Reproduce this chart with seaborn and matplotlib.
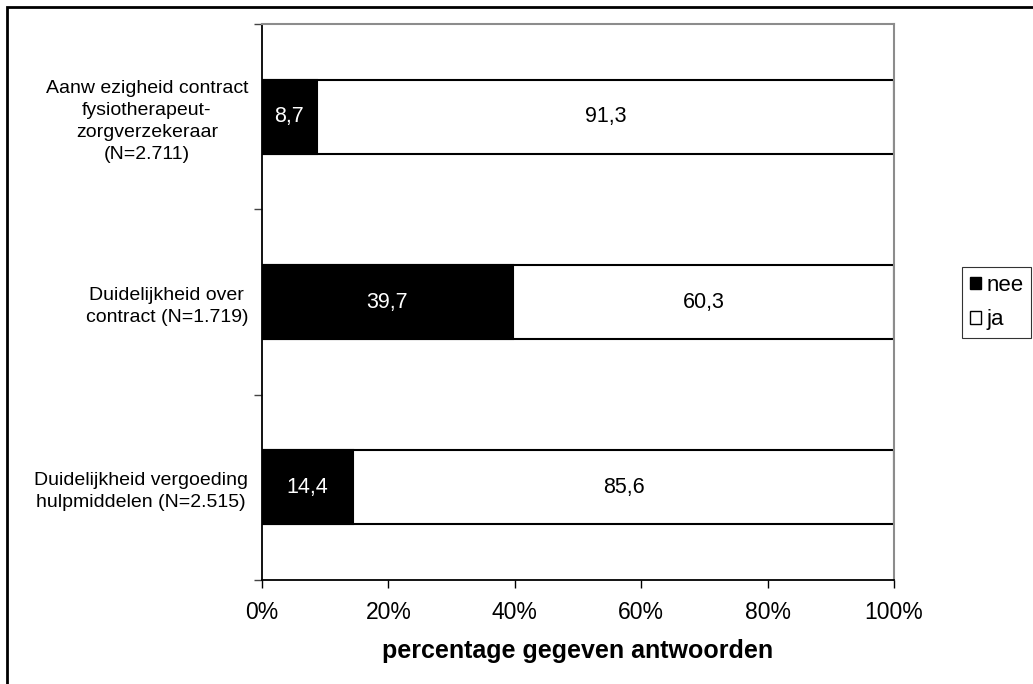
import matplotlib
matplotlib.use("Agg")
import matplotlib.pyplot as plt
import seaborn as sns
import pandas as pd
from matplotlib.patches import Rectangle, Patch
from matplotlib.ticker import FixedLocator, FuncFormatter

# Data
categories = [
    "Aanw ezigheid contract\nfysiotherapeut-\nzorgverzekeraar\n(N=2.711)",
    "Duidelijkheid over\ncontract (N=1.719)",
    "Duidelijkheid vergoeding\nhulpmiddelen (N=2.515)",
]
nee = [8.7, 39.7, 14.4]
ja = [91.3, 60.3, 85.6]
series_names = ["nee", "ja"]
x_ticks = [0, 20, 40, 60, 80, 100]
x_label = "percentage gegeven antwoorden"

sns.set_style("ticks")
plt.rcParams["font.family"] = ["Liberation Sans", "DejaVu Sans"]
for key in ("text.color", "axes.labelcolor", "xtick.color", "ytick.color"):
    plt.rcParams[key] = "black"

df = pd.DataFrame({"categorie": categories, "nee": nee, "ja": ja})
df["totaal"] = df["nee"] + df["ja"]

W, H = 1033, 684
fig = plt.figure(figsize=(W / 100, H / 100), dpi=100)
ax = fig.add_axes([262 / W, 1 - 580 / H, (894 - 262) / W, (580 - 24) / H])

# stacked bars: full total in white, "nee" part in black on top
sns.barplot(data=df, y="categorie", x="totaal", orient="h", color="white",
            edgecolor="black", linewidth=1.5, width=0.4, saturation=1,
            errorbar=None, ax=ax)
sns.barplot(data=df, y="categorie", x="nee", orient="h", color="black",
            edgecolor="black", linewidth=1.5, width=0.4, saturation=1,
            errorbar=None, ax=ax)

fmt = lambda v: f"{v:.1f}".replace(".", ",")
for i, (n, j) in enumerate(zip(nee, ja)):
    ax.text(n / 2, i, fmt(n), color="white", ha="center", va="center", fontsize=15.5)
    ax.text(n + j / 2, i, fmt(j), color="black", ha="center", va="center", fontsize=15.5)

ax.set_xlim(0, 100)
ax.set_ylim(2.5, -0.5)
ax.xaxis.set_major_locator(FixedLocator(x_ticks))
ax.xaxis.set_major_formatter(FuncFormatter(lambda v, p: f"{v:.0f}%"))
ax.tick_params(axis="x", direction="out", length=6, width=1, pad=9, labelsize=16.5, color="black")

# category labels, tick marks on category boundaries
ax.yaxis.set_major_locator(FixedLocator(range(len(categories))))
ax.set_yticklabels(categories, linespacing=1.38, multialignment="center")
ax.tick_params(axis="y", which="major", length=0, pad=10, labelsize=14)
ax.yaxis.set_minor_locator(FixedLocator([-0.5, 0.5, 1.5, 2.5]))
ax.tick_params(axis="y", which="minor", direction="out", length=6, width=1, color="#444444")

ax.set_ylabel("")
ax.set_xlabel(x_label, fontsize=18, fontweight="bold", labelpad=11)

for side in ("left", "bottom"):
    ax.spines[side].set_color("black")
    ax.spines[side].set_linewidth(1.3)
for side in ("top", "right"):
    ax.spines[side].set_visible(True)
    ax.spines[side].set_color("#8c8c8c")
    ax.spines[side].set_linewidth(1.5)

handles = [Patch(facecolor="black", edgecolor="black", label=series_names[0]),
           Patch(facecolor="white", edgecolor="black", label=series_names[1])]
leg = fig.legend(handles=handles, loc="upper left", bbox_to_anchor=(962 / W, 1 - 267 / H),
                 frameon=True, fancybox=False, fontsize=16, handlelength=0.5,
                 handleheight=0.5, handletextpad=0.25, borderpad=0.35, labelspacing=0.6,
                 borderaxespad=0)
leg.get_frame().set_edgecolor("black")
leg.get_frame().set_linewidth(0.8)

# outer chart border
fig.patches.append(Rectangle((7 / W, -0.1), 1.2, 1 - 7 / H + 0.1, transform=fig.transFigure,
                             fill=False, edgecolor="black", linewidth=2, zorder=0))

fig.savefig("out.png", dpi=100, facecolor="white")
